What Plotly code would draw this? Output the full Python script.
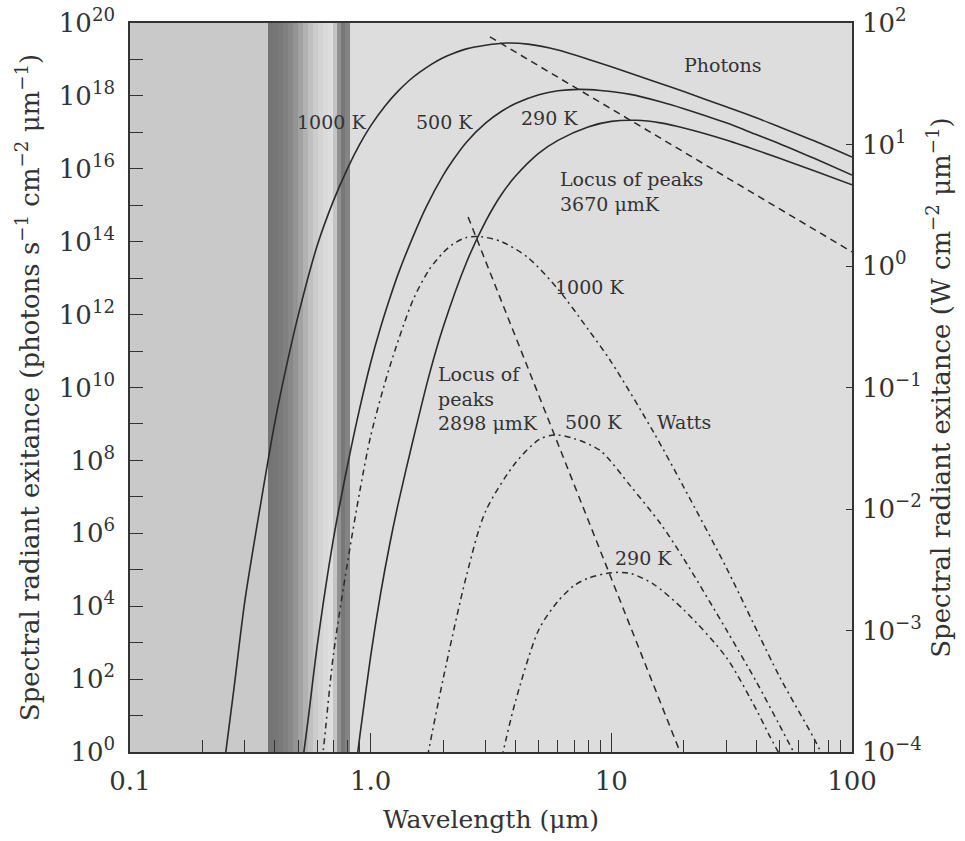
import math
import plotly.graph_objects as go

# ---------------- data ----------------
# Photon spectral exitance (photons s^-1 cm^-2 um^-1), left axis
wl_ph_1000 = [0.24, 0.25, 0.27, 0.3, 0.35, 0.4, 0.45, 0.5, 0.6, 0.7, 0.8, 0.9, 1.0, 1.15,
              1.3, 1.45, 1.6, 1.8, 2.0, 2.2, 2.5, 3.0, 3.67, 4.5, 6, 8, 10, 12, 15, 20,
              30, 40, 50, 70, 100]
ph_1000 = [0.105, 0.977, 51.3, 1.38e4, 7.08e6, 1.12e9, 4.79e10, 9.55e11, 7.94e13, 1.32e15,
           1.0e16, 4.68e16, 1.51e17, 5.37e17, 1.35e18, 2.69e18, 4.47e18, 7.59e18, 1.12e19,
           1.46e19, 1.95e19, 2.45e19, 2.82e19, 2.63e19, 1.82e19, 1.02e19, 6.31e18, 4.17e18,
           2.51e18, 1.32e18, 5.01e17, 2.51e17, 1.41e17, 5.75e16, 2.09e16]

wl_ph_500 = [0.5, 0.52, 0.55, 0.6, 0.7, 0.8, 0.9, 1.0, 1.1, 1.2, 1.3, 1.5, 1.7, 2.0, 2.2,
             2.5, 3, 3.5, 4, 5, 6, 7.34, 9, 12, 16, 20, 30, 40, 50, 70, 100]
ph_500 = [0.063, 0.479, 7.94, 851, 6.92e5, 6.92e7, 2.63e9, 4.79e10, 4.47e11, 2.75e12,
          1.29e13, 1.38e14, 8.91e14, 6.61e15, 1.74e16, 5.37e16, 1.78e17, 3.80e17, 6.17e17,
          1.07e18, 1.38e18, 1.51e18, 1.41e18, 1.10e18, 6.92e17, 4.47e17, 1.82e17, 8.71e16,
          4.90e16, 1.905e16, 6.76e15]

wl_ph_290 = [0.85, 0.9, 1.0, 1.1, 1.2, 1.3, 1.5, 1.75, 2.0, 2.5, 3, 3.5, 4, 5, 6, 8, 10,
             12.7, 16, 20, 30, 50, 70, 100]
ph_290 = [0.126, 2.51, 427, 2.24e4, 5.01e5, 6.31e6, 3.63e8, 2.19e10, 4.47e11, 2.69e13,
          3.55e14, 2.0e15, 6.31e15, 2.69e16, 6.03e16, 1.41e17, 2.0e17, 2.14e17, 1.82e17,
          1.32e17, 6.17e16, 1.95e16, 8.71e15, 3.63e15]

# Power spectral exitance (W cm^-2 um^-1), right axis
wl_w_1000 = [0.62, 0.65, 0.7, 0.8, 0.9, 1.0, 1.2, 1.5, 1.75, 2.0, 2.2, 2.5, 2.898, 3.5,
             4.5, 6, 8, 10, 15, 20, 30, 50, 70, 75]
w_1000 = [6.31e-5, 1.585e-4, 6.31e-4, 3.55e-3, 1.38e-2, 3.98e-2, 0.148, 0.525, 0.933,
          1.288, 1.514, 1.718, 1.738, 1.585, 1.175, 0.646, 0.302, 0.162, 4.27e-2, 1.51e-2,
          3.31e-3, 4.17e-4, 1.26e-4, 9.55e-5]

wl_w_500 = [1.6, 1.7, 2.0, 2.5, 3, 4, 5, 5.796, 7, 9, 12, 16, 20, 30, 40, 50, 60]
w_500 = [3.8e-5, 7.94e-5, 3.98e-4, 2.82e-3, 9.55e-3, 2.40e-2, 3.72e-2, 4.07e-2, 3.80e-2,
         3.02e-2, 1.55e-2, 7.59e-3, 3.89e-3, 1.02e-3, 3.80e-4, 1.66e-4, 8.32e-5]

wl_w_290 = [3.4, 3.55, 4, 5, 6, 7, 8, 10, 12, 15, 20, 30, 40, 45, 50]
w_290 = [6.76e-5, 1.0e-4, 2.63e-4, 1.02e-3, 1.74e-3, 2.34e-3, 2.69e-3, 2.99e-3, 2.95e-3,
         2.40e-3, 1.48e-3, 6.03e-4, 2.24e-4, 1.41e-4, 9.55e-5]

# Loci of peaks (straight lines on log-log axes)
wl_locus_ph = [3.13, 100]
locus_ph = [4.17e19, 5.25e13]          # 3670 um K, left axis
wl_locus_w = [2.54, 19.3]
locus_w = [2.53, 1.0e-4]               # 2898 um K, right axis

# Tick labels
x_tickvals = [0.1, 1, 10, 100]
x_ticktext = ["0.1", "1.0", "10", "100"]
x_minor = [0.2, 0.3, 0.4, 0.5, 0.6, 0.7, 0.8, 0.9, 2, 3, 4, 5, 6, 7, 8, 9,
           20, 30, 40, 50, 60, 70, 80, 90]
left_major_exps = list(range(0, 21, 2))
left_minor_exps = list(range(1, 20, 2))
right_exps = list(range(-4, 3))

# ---------------- style ----------------
FONT = "DejaVu Serif"
INK = "#2a2a2a"
TXT = "#333333"

# background: dark-grey UV region, visible band gradient, light-grey IR region
bg_edges = [0.1, 0.3745, 0.3928, 0.4120, 0.4321, 0.4532, 0.4754, 0.4989, 0.5234, 0.5490,
            0.5758, 0.6041, 0.6335, 0.6646, 0.6970, 0.7244, 0.7526, 0.7818, 0.8204, 100]
bg_grey = [201, 116, 118, 122, 128, 136, 148, 162, 178, 192, 204, 212, 218, 222, 196, 145,
           120, 132, 221]

fig = go.Figure()

fig.add_trace(go.Heatmap(
    x=bg_edges, y=[1, 1e20], z=[bg_grey], zmin=0, zmax=255,
    colorscale=[[0, "rgb(0,0,0)"], [1, "rgb(255,255,255)"]],
    showscale=False, hoverinfo="skip", xaxis="x", yaxis="y"))

solid = dict(color=INK, width=1.6, shape="spline", smoothing=0.8)
for wl, v, nm in [(wl_ph_1000, ph_1000, "1000 K photons"),
                  (wl_ph_500, ph_500, "500 K photons"),
                  (wl_ph_290, ph_290, "290 K photons")]:
    fig.add_trace(go.Scatter(x=wl, y=v, mode="lines", line=solid, name=nm,
                             xaxis="x", yaxis="y", hoverinfo="skip"))

fig.add_trace(go.Scatter(x=wl_locus_ph, y=locus_ph, mode="lines", name="Locus 3670",
                         line=dict(color=INK, width=1.5, dash="7px,5px"),
                         xaxis="x", yaxis="y", hoverinfo="skip"))

dashdot = dict(color=INK, width=1.5, dash="6px,4px,2px,4px", shape="spline", smoothing=0.8)
for wl, v, nm in [(wl_w_1000, w_1000, "1000 K watts"),
                  (wl_w_500, w_500, "500 K watts"),
                  (wl_w_290, w_290, "290 K watts")]:
    fig.add_trace(go.Scatter(x=wl, y=v, mode="lines", line=dashdot, name=nm,
                             xaxis="x", yaxis="y2", hoverinfo="skip"))

fig.add_trace(go.Scatter(x=wl_locus_w, y=locus_w, mode="lines", name="Locus 2898",
                         line=dict(color=INK, width=1.5, dash="7px,5px"),
                         xaxis="x", yaxis="y2", hoverinfo="skip"))

# text labels: (text, wavelength, left-axis value, anchor)
labels = [
    ("1000 K", 0.69, 1.9e17, "center"),
    ("500 K", 2.02, 1.9e17, "center"),
    ("290 K", 5.56, 2.45e17, "center"),
    ("Photons", 29.1, 7.1e18, "center"),
    ("Locus of peaks<br>3670 μmK", 6.0, 2.45e15, "left"),
    ("1000 K", 8.15, 5.75e12, "center"),
    ("Locus of<br>peaks<br>2898 μmK", 1.87, 5.1e9, "left"),
    ("500 K", 8.47, 1.12e9, "center"),
    ("Watts", 20.0, 1.12e9, "center"),
    ("290 K", 13.66, 2.1e5, "center"),
]
annotations = []
for text, wl, val, anc in labels:
    annotations.append(dict(text=text, x=math.log10(wl), y=math.log10(val),
                            xref="x", yref="y", showarrow=False, xanchor=anc,
                            align="left", font=dict(family=FONT, size=19, color=TXT)))

tickfont = dict(family=FONT, size=26, color=TXT)
titlefont = dict(family=FONT, size=26, color=TXT)

fig.update_layout(
    width=965, height=841,
    margin=dict(l=130, r=113, t=23, b=89),
    paper_bgcolor="white", plot_bgcolor="#dddddd",
    showlegend=False,
    annotations=annotations,
    xaxis=dict(
        type="log", range=[-1, 2], showgrid=False, zeroline=False, automargin=False,
        showline=True, linecolor=TXT, linewidth=1.5, mirror=True,
        ticks="inside", ticklen=19, tickwidth=1.3, tickcolor=TXT,
        tickvals=x_tickvals, ticktext=x_ticktext, tickfont=tickfont,
        ticklabelstandoff=5, ticklabeloverflow="allow",
        minor=dict(tickvals=x_minor, ticks="inside", ticklen=12, tickwidth=1.3, tickcolor=TXT),
        title=dict(text="Wavelength (μm)", font=dict(family=FONT, size=25, color=TXT),
                   standoff=16),
    ),
    yaxis=dict(
        type="log", range=[0, 20], showgrid=False, zeroline=False, automargin=False,
        showline=True, linecolor=TXT, linewidth=1.5,
        ticks="inside", ticklen=13, tickwidth=1.3, tickcolor=TXT,
        tickvals=[10.0 ** k for k in left_major_exps],
        ticktext=[f"10<sup>{k}</sup>" for k in left_major_exps],
        minor=dict(tickvals=[10.0 ** k for k in left_minor_exps], ticks="inside",
                   ticklen=13, tickwidth=1.3, tickcolor=TXT),
        tickfont=tickfont, ticklabelstandoff=8, ticklabeloverflow="allow",
        title=dict(text="Spectral radiant exitance (photons s<sup>−1</sup> cm<sup>−2</sup> μm<sup>−1</sup>)",
                   font=titlefont, standoff=12),
    ),
    yaxis2=dict(
        type="log", range=[-4, 2], overlaying="y", side="right", automargin=False,
        showgrid=False, zeroline=False,
        showline=True, linecolor=TXT, linewidth=1.5,
        ticks="inside", ticklen=6, tickwidth=1.3, tickcolor=TXT,
        tickvals=[10.0 ** k for k in right_exps],
        ticktext=[f"10<sup>{str(k).replace('-', '−')}</sup>" for k in right_exps],
        tickfont=tickfont, ticklabelstandoff=3, ticklabeloverflow="allow",
        title=dict(text="Spectral radiant exitance (W cm<sup>−2</sup> μm<sup>−1</sup>)",
                   font=titlefont, standoff=2),
    ),
)

# remove the default 8 px page margin so the figure sits exactly in the window
fig.write_html("out.html", config={"displayModeBar": False},
               post_script="document.body.style.margin='0px';")
